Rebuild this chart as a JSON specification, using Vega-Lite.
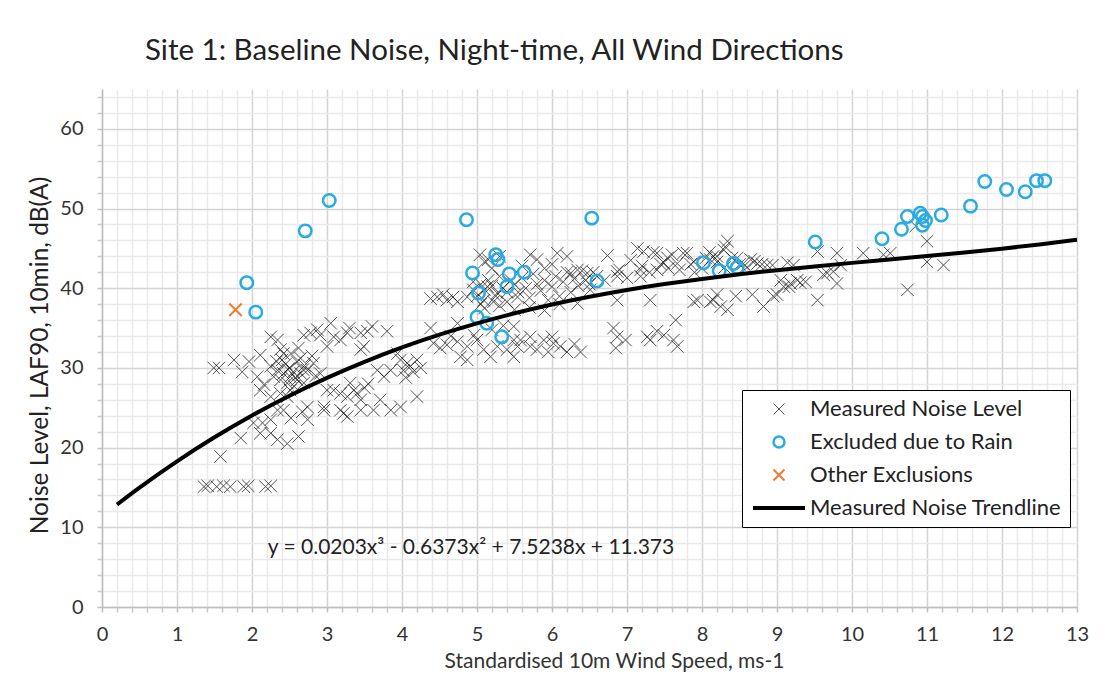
{
  "$schema": "https://vega.github.io/schema/vega-lite/v6.json",
  "width": 975,
  "height": 518,
  "autosize": {"type": "none"},
  "padding": {"left": 102, "top": 89, "right": 36, "bottom": 79},
  "background": "white",
  "title": {"text": "Site 1: Baseline Noise, Night-time, All Wind Directions", "anchor": "start", "frame": "group", "dx": 43, "dy": 30, "offset": 24, "baseline": "bottom", "font": "Lato", "fontSize": 29.5, "fontWeight": "normal", "color": "#222222"},
  "config": {
    "view": {"stroke": null},
    "legend": {"orient": "none", "legendX": 640, "legendY": 301, "fillColor": "white", "strokeColor": "black", "padding": 8, "symbolSize": 120, "labelFontSize": 22, "labelFont": "Lato", "labelColor": "#222222", "rowPadding": 11, "labelOffset": 20, "symbolOffset": 18, "labelLimit": 400}
  },
  "datasets": {
    "pts": [
      {"x":1.36,"y":15.1,"s":"M"},{"x":1.41,"y":15.2,"s":"M"},{"x":1.53,"y":15.1,"s":"M"},{"x":1.62,"y":15.2,"s":"M"},{"x":1.71,"y":15.1,"s":"M"},{"x":1.89,"y":15.1,"s":"M"},{"x":1.95,"y":15.2,"s":"M"},{"x":2.18,"y":15.1,"s":"M"},{"x":2.25,"y":15.2,"s":"M"},
      {"x":1.58,"y":18.9,"s":"M"},{"x":1.85,"y":21.2,"s":"M"},
      {"x":2.02,"y":23.1,"s":"M"},{"x":2.11,"y":21.8,"s":"M"},{"x":2.25,"y":21.8,"s":"M"},{"x":2.34,"y":21.0,"s":"M"},{"x":2.47,"y":20.5,"s":"M"},{"x":2.62,"y":21.4,"s":"M"},{"x":2.25,"y":23.5,"s":"M"},{"x":2.14,"y":23.1,"s":"M"},{"x":2.34,"y":24.7,"s":"M"},{"x":2.52,"y":23.7,"s":"M"},{"x":2.67,"y":24.5,"s":"M"},{"x":2.42,"y":24.7,"s":"M"},{"x":2.74,"y":25.1,"s":"M"},{"x":2.96,"y":24.7,"s":"M"},{"x":2.74,"y":23.5,"s":"M"},{"x":2.96,"y":25.1,"s":"M"},{"x":3.18,"y":24.7,"s":"M"},{"x":3.27,"y":23.9,"s":"M"},{"x":3.22,"y":24.3,"s":"M"},{"x":3.45,"y":24.7,"s":"M"},{"x":3.62,"y":24.7,"s":"M"},{"x":3.85,"y":24.7,"s":"M"},{"x":3.98,"y":25.1,"s":"M"},
      {"x":2.38,"y":26.8,"s":"M"},{"x":2.47,"y":26.4,"s":"M"},{"x":2.25,"y":26.4,"s":"M"},{"x":2.51,"y":27.2,"s":"M"},{"x":3.0,"y":27.2,"s":"M"},{"x":3.09,"y":27.2,"s":"M"},{"x":3.18,"y":26.8,"s":"M"},{"x":3.31,"y":28.1,"s":"M"},{"x":3.36,"y":27.2,"s":"M"},{"x":3.4,"y":26.8,"s":"M"},{"x":3.27,"y":26.4,"s":"M"},{"x":3.71,"y":26.0,"s":"M"},{"x":4.2,"y":26.4,"s":"M"},{"x":3.5,"y":27.5,"s":"M"},{"x":3.55,"y":28.0,"s":"M"},{"x":3.45,"y":26.0,"s":"M"},
      {"x":1.49,"y":30.0,"s":"M"},{"x":1.56,"y":30.0,"s":"M"},{"x":1.76,"y":31.0,"s":"M"},{"x":1.87,"y":29.5,"s":"M"},{"x":1.96,"y":30.8,"s":"M"},{"x":2.07,"y":28.9,"s":"M"},{"x":2.11,"y":27.2,"s":"M"},{"x":2.16,"y":27.9,"s":"M"},{"x":2.25,"y":30.2,"s":"M"},{"x":2.29,"y":28.9,"s":"M"},{"x":2.34,"y":29.7,"s":"M"},{"x":2.38,"y":28.5,"s":"M"},{"x":2.42,"y":29.3,"s":"M"},{"x":2.47,"y":28.1,"s":"M"},{"x":2.51,"y":28.9,"s":"M"},{"x":2.56,"y":27.7,"s":"M"},{"x":2.6,"y":28.5,"s":"M"},{"x":2.65,"y":29.3,"s":"M"},{"x":2.69,"y":28.1,"s":"M"},{"x":2.11,"y":31.6,"s":"M"},{"x":2.91,"y":29.3,"s":"M"},{"x":2.82,"y":30.6,"s":"M"},{"x":2.74,"y":29.7,"s":"M"},
      {"x":2.45,"y":30.5,"s":"M"},{"x":2.5,"y":30.0,"s":"M"},{"x":2.55,"y":29.5,"s":"M"},{"x":2.6,"y":30.8,"s":"M"},{"x":2.65,"y":31.2,"s":"M"},{"x":2.7,"y":30.3,"s":"M"},{"x":2.8,"y":31.5,"s":"M"},{"x":2.85,"y":29.0,"s":"M"},{"x":2.4,"y":31.0,"s":"M"},{"x":2.52,"y":31.8,"s":"M"},{"x":2.62,"y":32.5,"s":"M"},{"x":2.33,"y":30.8,"s":"M"},{"x":2.48,"y":29.8,"s":"M"},{"x":2.58,"y":28.8,"s":"M"},{"x":2.68,"y":29.8,"s":"M"},
      {"x":2.25,"y":33.9,"s":"M"},{"x":2.34,"y":33.5,"s":"M"},{"x":2.38,"y":32.3,"s":"M"},{"x":2.42,"y":31.8,"s":"M"},{"x":2.69,"y":34.1,"s":"M"},{"x":2.78,"y":34.4,"s":"M"},{"x":2.87,"y":34.8,"s":"M"},{"x":3.05,"y":35.6,"s":"M"},{"x":3.09,"y":33.9,"s":"M"},{"x":3.18,"y":33.5,"s":"M"},{"x":3.0,"y":32.7,"s":"M"},{"x":2.91,"y":34.1,"s":"M"},
      {"x":3.27,"y":34.4,"s":"M"},{"x":3.45,"y":34.4,"s":"M"},{"x":3.54,"y":34.6,"s":"M"},{"x":3.8,"y":34.6,"s":"M"},{"x":3.49,"y":32.7,"s":"M"},{"x":3.45,"y":32.3,"s":"M"},{"x":3.3,"y":35.0,"s":"M"},{"x":3.6,"y":35.2,"s":"M"},
      {"x":3.67,"y":29.7,"s":"M"},{"x":3.76,"y":28.9,"s":"M"},{"x":3.85,"y":29.7,"s":"M"},{"x":3.94,"y":31.8,"s":"M"},{"x":3.98,"y":31.0,"s":"M"},{"x":4.07,"y":30.6,"s":"M"},{"x":4.11,"y":30.2,"s":"M"},{"x":4.02,"y":29.7,"s":"M"},{"x":4.2,"y":31.0,"s":"M"},{"x":4.15,"y":29.5,"s":"M"},{"x":4.25,"y":30.0,"s":"M"},{"x":4.05,"y":28.8,"s":"M"},
      {"x":4.38,"y":38.7,"s":"M"},{"x":4.47,"y":38.9,"s":"M"},{"x":4.6,"y":38.5,"s":"M"},{"x":4.74,"y":38.3,"s":"M"},{"x":4.87,"y":38.9,"s":"M"},{"x":4.95,"y":39.8,"s":"M"},{"x":5.14,"y":40.2,"s":"M"},{"x":5.27,"y":39.4,"s":"M"},{"x":5.4,"y":38.3,"s":"M"},{"x":5.54,"y":38.9,"s":"M"},{"x":5.09,"y":38.5,"s":"M"},{"x":5.22,"y":38.3,"s":"M"},{"x":4.55,"y":39.2,"s":"M"},{"x":4.68,"y":38.9,"s":"M"},
      {"x":4.74,"y":35.6,"s":"M"},{"x":4.38,"y":35.0,"s":"M"},{"x":4.42,"y":33.1,"s":"M"},{"x":4.51,"y":32.5,"s":"M"},{"x":4.6,"y":32.9,"s":"M"},{"x":4.74,"y":33.3,"s":"M"},{"x":4.87,"y":32.7,"s":"M"},{"x":4.78,"y":31.4,"s":"M"},{"x":4.87,"y":31.0,"s":"M"},{"x":5.0,"y":33.5,"s":"M"},{"x":5.09,"y":32.3,"s":"M"},{"x":5.18,"y":31.4,"s":"M"},{"x":5.27,"y":32.7,"s":"M"},{"x":5.4,"y":32.3,"s":"M"},{"x":5.49,"y":33.5,"s":"M"},{"x":5.49,"y":31.4,"s":"M"},{"x":4.96,"y":34.1,"s":"M"},{"x":4.65,"y":34.0,"s":"M"},{"x":5.2,"y":34.8,"s":"M"},{"x":5.35,"y":35.3,"s":"M"},
      {"x":5.49,"y":35.2,"s":"M"},{"x":5.58,"y":33.5,"s":"M"},{"x":5.71,"y":33.9,"s":"M"},{"x":5.89,"y":33.5,"s":"M"},{"x":6.0,"y":33.9,"s":"M"},{"x":6.02,"y":33.1,"s":"M"},{"x":6.11,"y":32.7,"s":"M"},{"x":6.2,"y":32.0,"s":"M"},{"x":6.38,"y":32.0,"s":"M"},{"x":5.71,"y":32.7,"s":"M"},{"x":5.8,"y":32.3,"s":"M"},{"x":5.54,"y":32.7,"s":"M"},{"x":5.95,"y":32.0,"s":"M"},{"x":6.3,"y":33.0,"s":"M"},
      {"x":5.0,"y":39.0,"s":"M"},{"x":5.05,"y":40.5,"s":"M"},{"x":5.1,"y":39.8,"s":"M"},{"x":5.15,"y":41.0,"s":"M"},{"x":5.2,"y":40.3,"s":"M"},{"x":5.25,"y":39.0,"s":"M"},{"x":5.3,"y":41.5,"s":"M"},{"x":5.35,"y":40.0,"s":"M"},{"x":5.4,"y":39.5,"s":"M"},{"x":5.45,"y":41.0,"s":"M"},{"x":5.5,"y":40.5,"s":"M"},{"x":5.55,"y":39.5,"s":"M"},{"x":5.6,"y":41.3,"s":"M"},{"x":5.65,"y":40.0,"s":"M"},{"x":5.7,"y":38.8,"s":"M"},{"x":5.75,"y":41.8,"s":"M"},{"x":5.8,"y":40.5,"s":"M"},{"x":5.85,"y":39.7,"s":"M"},{"x":5.9,"y":41.0,"s":"M"},{"x":5.95,"y":38.5,"s":"M"},{"x":6.0,"y":40.2,"s":"M"},{"x":6.05,"y":41.5,"s":"M"},{"x":6.1,"y":39.0,"s":"M"},{"x":6.15,"y":40.8,"s":"M"},{"x":6.2,"y":42.0,"s":"M"},{"x":6.25,"y":39.5,"s":"M"},{"x":6.3,"y":41.2,"s":"M"},{"x":6.35,"y":40.3,"s":"M"},{"x":6.4,"y":42.2,"s":"M"},{"x":6.45,"y":41.0,"s":"M"},{"x":6.5,"y":40.5,"s":"M"},{"x":6.55,"y":42.0,"s":"M"},{"x":6.6,"y":41.5,"s":"M"},{"x":5.1,"y":37.5,"s":"M"},{"x":5.3,"y":37.8,"s":"M"},{"x":5.5,"y":37.3,"s":"M"},{"x":5.7,"y":37.6,"s":"M"},{"x":5.9,"y":37.2,"s":"M"},{"x":6.1,"y":38.0,"s":"M"},{"x":5.2,"y":42.5,"s":"M"},{"x":5.6,"y":42.8,"s":"M"},{"x":5.9,"y":42.5,"s":"M"},{"x":6.0,"y":43.0,"s":"M"},{"x":5.8,"y":43.6,"s":"M"},{"x":4.95,"y":40.8,"s":"M"},{"x":5.05,"y":38.0,"s":"M"},
      {"x":5.71,"y":44.2,"s":"M"},{"x":6.07,"y":44.4,"s":"M"},{"x":5.15,"y":43.6,"s":"M"},{"x":5.3,"y":44.0,"s":"M"},{"x":6.2,"y":44.0,"s":"M"},{"x":5.04,"y":44.2,"s":"M"},{"x":5.1,"y":43.3,"s":"M"},
      {"x":6.74,"y":44.1,"s":"M"},{"x":7.14,"y":45.0,"s":"M"},{"x":7.22,"y":44.6,"s":"M"},{"x":7.4,"y":44.4,"s":"M"},{"x":7.54,"y":43.8,"s":"M"},{"x":7.67,"y":43.1,"s":"M"},{"x":7.75,"y":44.4,"s":"M"},{"x":6.87,"y":42.1,"s":"M"},{"x":6.87,"y":41.5,"s":"M"},{"x":7.18,"y":42.3,"s":"M"},{"x":7.18,"y":41.5,"s":"M"},{"x":7.4,"y":42.3,"s":"M"},{"x":7.49,"y":43.2,"s":"M"},{"x":6.34,"y":42.3,"s":"M"},{"x":6.47,"y":41.9,"s":"M"},{"x":6.25,"y":41.9,"s":"M"},{"x":6.87,"y":38.5,"s":"M"},{"x":7.31,"y":38.5,"s":"M"},{"x":6.34,"y":38.1,"s":"M"},{"x":6.51,"y":39.8,"s":"M"},
      {"x":6.82,"y":35.0,"s":"M"},{"x":6.87,"y":33.9,"s":"M"},{"x":6.98,"y":33.5,"s":"M"},{"x":6.85,"y":32.5,"s":"M"},{"x":7.31,"y":33.5,"s":"M"},{"x":7.4,"y":34.6,"s":"M"},{"x":7.49,"y":34.1,"s":"M"},{"x":7.65,"y":36.0,"s":"M"},{"x":7.62,"y":33.5,"s":"M"},{"x":7.67,"y":32.7,"s":"M"},{"x":7.27,"y":33.9,"s":"M"},
      {"x":6.7,"y":41.0,"s":"M"},{"x":6.9,"y":42.3,"s":"M"},{"x":7.0,"y":41.3,"s":"M"},{"x":7.05,"y":43.5,"s":"M"},{"x":7.2,"y":42.8,"s":"M"},{"x":7.3,"y":42.0,"s":"M"},{"x":7.35,"y":44.5,"s":"M"},{"x":7.45,"y":43.0,"s":"M"},{"x":7.55,"y":42.5,"s":"M"},{"x":7.6,"y":44.2,"s":"M"},{"x":7.7,"y":42.3,"s":"M"},{"x":7.85,"y":43.0,"s":"M"},{"x":7.9,"y":42.0,"s":"M"},{"x":8.0,"y":42.5,"s":"M"},{"x":8.05,"y":43.8,"s":"M"},{"x":8.1,"y":44.5,"s":"M"},{"x":8.2,"y":43.3,"s":"M"},{"x":8.3,"y":42.6,"s":"M"},{"x":8.4,"y":43.8,"s":"M"},{"x":8.5,"y":43.0,"s":"M"},{"x":8.6,"y":42.6,"s":"M"},{"x":8.7,"y":43.4,"s":"M"},{"x":8.8,"y":43.0,"s":"M"},
      {"x":7.8,"y":44.4,"s":"M"},{"x":7.89,"y":43.3,"s":"M"},{"x":8.15,"y":44.0,"s":"M"},{"x":8.29,"y":44.8,"s":"M"},{"x":8.34,"y":45.9,"s":"M"},{"x":8.55,"y":43.1,"s":"M"},{"x":8.74,"y":43.1,"s":"M"},{"x":8.87,"y":42.9,"s":"M"},
      {"x":7.89,"y":38.3,"s":"M"},{"x":7.94,"y":38.5,"s":"M"},{"x":8.11,"y":38.3,"s":"M"},{"x":8.2,"y":39.2,"s":"M"},{"x":8.25,"y":37.7,"s":"M"},{"x":8.34,"y":37.3,"s":"M"},{"x":8.45,"y":39.0,"s":"M"},{"x":8.67,"y":39.2,"s":"M"},{"x":8.82,"y":37.7,"s":"M"},{"x":8.95,"y":39.0,"s":"M"},{"x":8.15,"y":38.5,"s":"M"},
      {"x":9.05,"y":41.0,"s":"M"},{"x":9.18,"y":40.6,"s":"M"},{"x":9.27,"y":41.0,"s":"M"},{"x":9.38,"y":40.8,"s":"M"},{"x":9.14,"y":43.2,"s":"M"},{"x":9.22,"y":42.9,"s":"M"},{"x":8.94,"y":42.9,"s":"M"},{"x":9.54,"y":44.6,"s":"M"},{"x":9.54,"y":38.5,"s":"M"},{"x":9.67,"y":41.9,"s":"M"},{"x":9.8,"y":44.4,"s":"M"},{"x":9.8,"y":40.6,"s":"M"},{"x":9.75,"y":42.1,"s":"M"},{"x":10.15,"y":44.4,"s":"M"},{"x":10.42,"y":44.2,"s":"M"},{"x":10.51,"y":44.4,"s":"M"},{"x":10.74,"y":39.8,"s":"M"},{"x":11.0,"y":45.9,"s":"M"},{"x":11.0,"y":43.3,"s":"M"},{"x":11.22,"y":42.9,"s":"M"},
      {"x":8.31,"y":45.2,"s":"M"},{"x":10.85,"y":47.8,"s":"M"},{"x":9.62,"y":41.7,"s":"M"},{"x":9.85,"y":42.9,"s":"M"},{"x":9.09,"y":40.2,"s":"M"},{"x":9.0,"y":39.2,"s":"M"},{"x":8.11,"y":43.6,"s":"M"},{"x":8.2,"y":44.0,"s":"M"},{"x":8.47,"y":43.8,"s":"M"},{"x":8.65,"y":43.6,"s":"M"},{"x":9.31,"y":40.7,"s":"M"},{"x":9.16,"y":40.2,"s":"M"},
      {"x":1.93,"y":40.7,"s":"R"},{"x":2.05,"y":37.0,"s":"R"},{"x":2.71,"y":47.2,"s":"R"},{"x":3.03,"y":51.0,"s":"R"},{"x":4.86,"y":48.6,"s":"R"},{"x":4.94,"y":41.9,"s":"R"},{"x":5.02,"y":39.4,"s":"R"},{"x":5.0,"y":36.4,"s":"R"},{"x":5.13,"y":35.6,"s":"R"},{"x":5.25,"y":44.2,"s":"R"},{"x":5.28,"y":43.6,"s":"R"},{"x":5.43,"y":41.8,"s":"R"},{"x":5.4,"y":40.2,"s":"R"},{"x":5.63,"y":42.0,"s":"R"},{"x":5.33,"y":33.9,"s":"R"},{"x":6.53,"y":48.8,"s":"R"},{"x":6.6,"y":40.9,"s":"R"},{"x":8.02,"y":43.2,"s":"R"},{"x":8.23,"y":42.2,"s":"R"},{"x":8.42,"y":43.1,"s":"R"},{"x":8.47,"y":42.6,"s":"R"},{"x":9.51,"y":45.8,"s":"R"},{"x":10.4,"y":46.2,"s":"R"},{"x":10.66,"y":47.4,"s":"R"},{"x":10.74,"y":49.0,"s":"R"},{"x":10.91,"y":49.4,"s":"R"},{"x":10.94,"y":49.0,"s":"R"},{"x":10.98,"y":48.5,"s":"R"},{"x":10.94,"y":47.9,"s":"R"},{"x":11.19,"y":49.2,"s":"R"},{"x":11.58,"y":50.3,"s":"R"},{"x":11.77,"y":53.4,"s":"R"},{"x":12.06,"y":52.4,"s":"R"},{"x":12.31,"y":52.1,"s":"R"},{"x":12.46,"y":53.5,"s":"R"},{"x":12.57,"y":53.5,"s":"R"},
      {"x":1.78,"y":37.3,"s":"O"}
    ],
    "trend": [
      {"x":0.2,"y":12.852},{"x":0.5,"y":14.978},{"x":1,"y":18.28},{"x":1.5,"y":21.293},{"x":2,"y":24.034},{"x":2.5,"y":26.517},{"x":3,"y":28.757},{"x":3.5,"y":30.77},{"x":4,"y":32.571},{"x":4.5,"y":34.175},{"x":5,"y":35.597},{"x":5.5,"y":36.853},{"x":6,"y":37.958},{"x":6.5,"y":38.927},{"x":7,"y":39.775},{"x":7.5,"y":40.518},{"x":8,"y":41.17},{"x":8.5,"y":41.747},{"x":9,"y":42.265},{"x":9.5,"y":42.737},{"x":10,"y":43.181},{"x":10.5,"y":43.61},{"x":11,"y":44.041},{"x":11.5,"y":44.488},{"x":12,"y":44.966},{"x":12.5,"y":45.491},{"x":13,"y":46.078}
    ],
    "eq": [{"x":4.92,"y":7.4,"label":"y = 0.0203x³ - 0.6373x² + 7.5238x + 11.373"}]
  },
  "resolve": {"axis": {"x": "independent", "y": "independent"}},
  "layer": [
    {
      "data": {"name": "pts"},
      "mark": {"type": "point", "filled": false, "size": 155},
      "encoding": {
        "x": {"field": "x", "type": "quantitative", "scale": {"domain": [0, 13], "nice": false, "zero": false},
          "axis": {"orient": "bottom", "values": [0.2,0.4,0.6,0.8,1.2,1.4,1.6,1.8,2.2,2.4,2.6,2.8,3.2,3.4,3.6,3.8,4.2,4.4,4.6,4.8,5.2,5.4,5.6,5.8,6.2,6.4,6.6,6.8,7.2,7.4,7.6,7.8,8.2,8.4,8.6,8.8,9.2,9.4,9.6,9.8,10.2,10.4,10.6,10.8,11.2,11.4,11.6,11.8,12.2,12.4,12.6,12.8], "grid": true, "gridColor": "#eaeaea", "gridWidth": 1.5, "labels": false, "domain": false, "ticks": true, "tickSize": 5, "tickColor": "#c8c8c8", "tickWidth": 1.5, "title": null}},
        "y": {"field": "y", "type": "quantitative", "scale": {"domain": [0, 65], "nice": false, "zero": true},
          "axis": {"orient": "left", "values": [2,4,6,8,12,14,16,18,22,24,26,28,32,34,36,38,42,44,46,48,52,54,56,58,62,64], "grid": true, "gridColor": "#eaeaea", "gridWidth": 1.5, "labels": false, "domain": false, "ticks": true, "tickSize": 5, "tickColor": "#c8c8c8", "tickWidth": 1.5, "title": null}},
        "color": {"field": "s", "type": "nominal", "scale": {"domain": ["M","R","O","T"], "range": ["#111111","#29ABE2","#ED7D31","#000000"]},
          "legend": {"title": null, "labelExpr": "datum.label == 'M' ? 'Measured Noise Level' : datum.label == 'R' ? 'Excluded due to Rain' : datum.label == 'O' ? 'Other Exclusions' : 'Measured Noise Trendline'"}},
        "shape": {"field": "s", "type": "nominal", "scale": {"domain": ["M","R","O","T"], "range": ["M-1,-1L1,1M-1,1L1,-1","circle","M-1,-1L1,1M-1,1L1,-1","M-4.75,0L4.75,0"]}, "legend": {"title": null}},
        "strokeWidth": {"field": "s", "type": "nominal", "scale": {"type": "ordinal", "domain": ["M","R","O","T"], "range": [1, 2.5, 2, 4]}, "legend": {"title": null}},
        "opacity": {"field": "s", "type": "nominal", "scale": {"type": "ordinal", "domain": ["M","R","O","T"], "range": [0.72, 1, 1, 1]}, "legend": {"title": null}}
      }
    },
    {
      "data": {"name": "trend"},
      "mark": {"type": "line", "color": "black", "strokeWidth": 4, "interpolate": "monotone"},
      "encoding": {
        "x": {"field": "x", "type": "quantitative",
          "axis": {"orient": "bottom", "values": [0,1,2,3,4,5,6,7,8,9,10,11,12,13], "grid": true, "gridColor": "#d4d4d4", "gridWidth": 1.5, "domainColor": "#bfbfbf", "domainWidth": 1.5, "tickSize": 5, "tickColor": "#bfbfbf", "tickWidth": 1.5, "labelFlush": false, "labelOverlap": false, "labelFont": "Lato", "labelFontSize": 20, "labelColor": "#333333", "labelPadding": 12, "title": "Standardised 10m Wind Speed, ms-1", "titleFont": "Lato", "titleFontSize": 21, "titleFontWeight": "normal", "titleColor": "#333333", "titlePadding": 6, "titleX": 512}},
        "y": {"field": "y", "type": "quantitative",
          "axis": {"orient": "left", "values": [0,10,20,30,40,50,60], "grid": true, "gridColor": "#d4d4d4", "gridWidth": 1.5, "domainColor": "#bfbfbf", "domainWidth": 1.5, "tickSize": 5, "tickColor": "#bfbfbf", "tickWidth": 1.5, "labelFlush": false, "labelOverlap": false, "labelFont": "Lato", "labelFontSize": 20, "labelColor": "#333333", "labelPadding": 14, "title": "Noise Level, LAF90, 10min, dB(A)", "titleFont": "Lato", "titleFontSize": 24.5, "titleFontWeight": "normal", "titleColor": "#222222", "titlePadding": 7, "titleY": 266}}
      }
    },
    {
      "data": {"name": "eq"},
      "mark": {"type": "text", "font": "Lato", "fontSize": 21, "color": "#222222", "align": "center", "baseline": "middle"},
      "encoding": {
        "x": {"field": "x", "type": "quantitative", "axis": null},
        "y": {"field": "y", "type": "quantitative", "axis": null},
        "text": {"field": "label"}
      }
    }
  ]
}
